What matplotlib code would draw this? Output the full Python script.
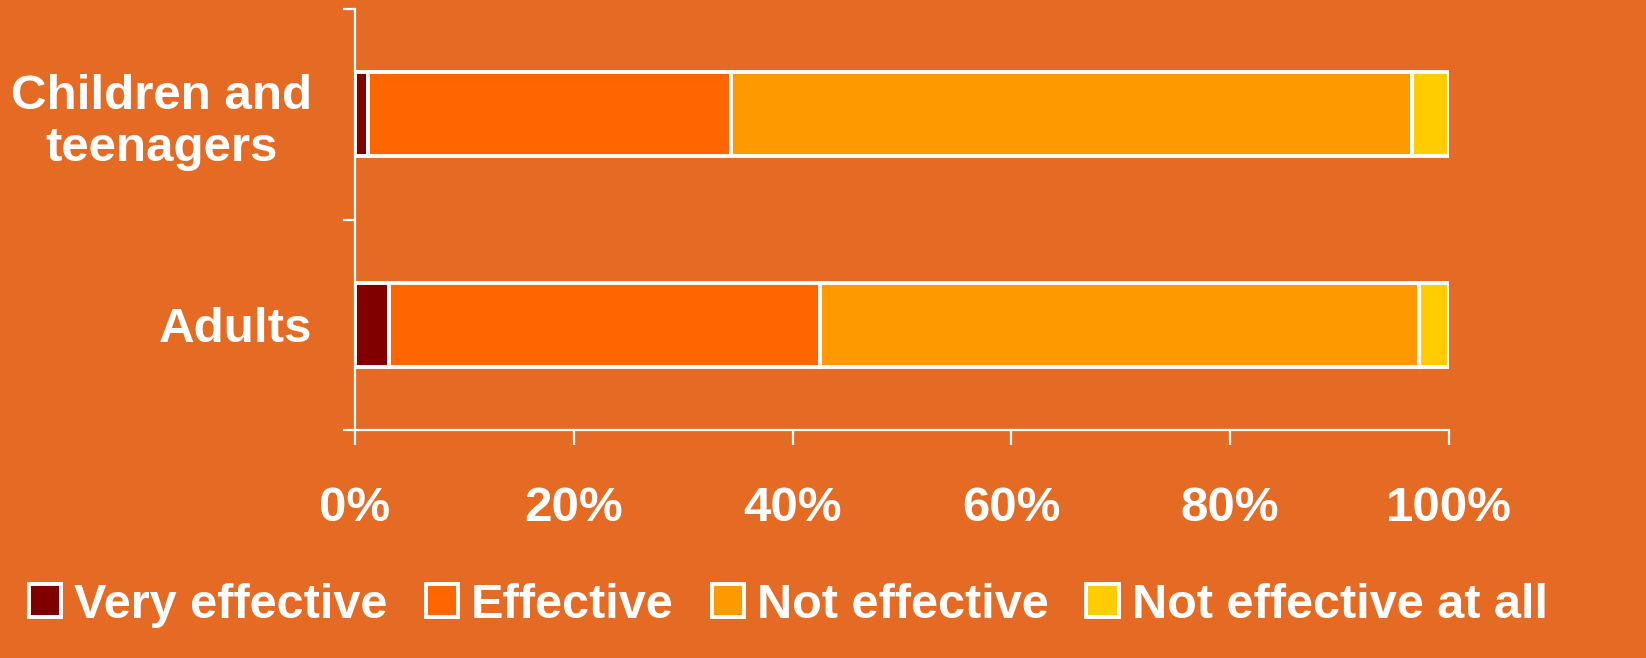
import numpy as np
import matplotlib
matplotlib.use("Agg")
import matplotlib.pyplot as plt
from matplotlib.ticker import FixedLocator, PercentFormatter

# data (percent of each group)
groups = ["Adults", "Children and\nteenagers"]
series = ["Very effective", "Effective", "Not effective", "Not effective at all"]
very_eff = [3.1, 1.2]
eff = [39.4, 33.2]
not_eff = [54.8, 62.2]
not_at_all = [2.7, 3.4]
colours = ["#800000", "#FF6600", "#FF9900", "#FFCC00"]

bg = "#E56A24"
fs = 35.5
plt.rcParams['font.family'] = ['Liberation Sans', 'DejaVu Sans']
plt.rcParams['font.weight'] = 'bold'

fig = plt.figure(figsize=(16.46, 6.58), dpi=100, facecolor=bg)
ax = fig.add_axes([0.2157, 0.3465, 0.6646, 0.6398])
ax.set_facecolor(bg)

ypos = np.array([0.5, 1.5])
left = np.zeros(2)
for name, vals, c in zip(series, [very_eff, eff, not_eff, not_at_all], colours):
    ax.barh(ypos, vals, height=0.4, left=left, color=c, edgecolor="white",
            linewidth=2.8, label=name)
    left = left + np.array(vals)

ax.set_xlim(0, 100)
ax.set_ylim(0, 2)
for s in ["top", "right"]:
    ax.spines[s].set_visible(False)
for s in ["left", "bottom"]:
    ax.spines[s].set_color("white")
    ax.spines[s].set_linewidth(1.6)

ax.xaxis.set_major_locator(FixedLocator([0, 20, 40, 60, 80, 100]))
ax.xaxis.set_major_formatter(PercentFormatter(decimals=0))
ax.tick_params(axis="x", colors="white", length=11, width=1.6, pad=29,
               labelsize=fs)

# major y ticks are the marks, minor y ticks carry the labels
ax.yaxis.set_major_locator(FixedLocator([0, 1, 2]))
ax.yaxis.set_major_formatter(plt.NullFormatter())
ax.yaxis.set_minor_locator(FixedLocator(ypos))
ax.set_yticklabels(groups, minor=True)
ax.tick_params(axis="y", which="major", colors="white", length=9, width=1.6)
ax.tick_params(axis="y", which="minor", colors="white", length=0, pad=31,
               labelsize=fs)
for lab in ax.get_yticklabels(minor=True):
    lab.set_multialignment("center")

leg = fig.legend(loc="center", bbox_to_anchor=(0.479, 0.08), ncol=4,
                 frameon=False, fontsize=35, handlelength=0.66,
                 handleheight=0.66, handletextpad=0.27, columnspacing=0.78,
                 borderaxespad=0)
for t in leg.get_texts():
    t.set_color("white")

fig.savefig("out.png", dpi=100, facecolor=bg)
